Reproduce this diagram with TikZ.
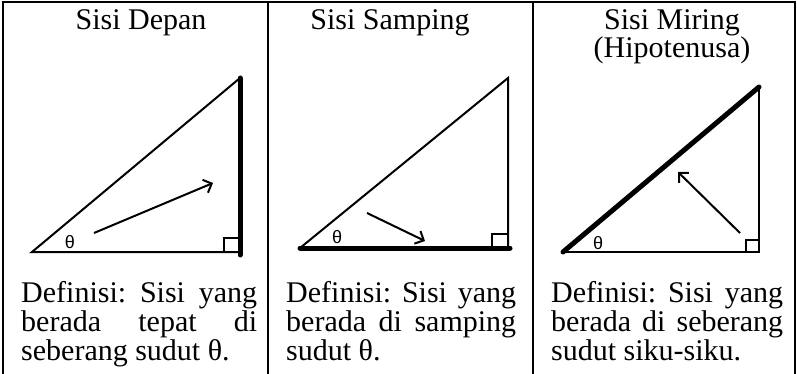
\documentclass[tikz,border=0pt]{standalone}
\usepackage{fontspec}
\setmainfont{Liberation Serif}
\newfontfamily\thetafont{Liberation Sans}
\usetikzlibrary{arrows.meta}
\frenchspacing
\tikzset{
  grid/.style={line width=2pt, black},
  tri/.style={line width=2pt, line join=miter},
  thick side/.style={line width=5pt, line cap=round},
  rightsq/.style={line width=1.6pt},
  pointer/.style={line width=2pt, -{Straight Barb[length=7pt,width=14pt,line width=2pt]}},
  title/.style={anchor=base, inner sep=0pt, font=\fontsize{30}{29}\selectfont},
  body/.style={anchor=base west, inner sep=0pt, text width=236pt, align=justify, font=\fontsize{30}{29}\selectfont\frenchspacing},
  ang/.style={inner sep=0pt, font=\thetafont\fontsize{18}{18}\selectfont}
}
\begin{document}
\begin{tikzpicture}[x=1pt, y=-1pt]
\useasboundingbox (0,0) rectangle (797,374);
% table
\draw[grid] (3,374) -- (3,2) -- (795,2) -- (795,374);
\draw[grid] (268,2) -- (268,374);
\draw[grid] (533,2) -- (533,374);
% titles
\node[title] (t1) at (141,30) {Sisi Depan};
\node[title] (t2) at (390,30) {Sisi Samping};
\node[title] (t3a) at (672,30) {Sisi Miring};
\node[title] (t3b) at (672,58) {(Hipotenusa)};
% triangle 1
\coordinate (a1) at (32,252); \coordinate (b1) at (240,252); \coordinate (c1) at (240,78);
\draw[tri] (b1) -- (a1) -- (c1);
\draw[rightsq] (224,252) |- (240,238);
\draw[thick side] (b1) ++(0,3) -- (c1);
\node[ang] (th1) at (70,242) {θ};
\coordinate (p1s) at (94,233); \coordinate (p1e) at (213,183);
\draw[pointer] (p1s) -- (p1e);
% triangle 2
\coordinate (a2) at (300,248); \coordinate (b2) at (508,248); \coordinate (c2) at (508,78);
\draw[tri] (a2) -- (c2) -- (b2);
\draw[rightsq] (492,248) |- (508,234);
\draw[thick side] (a2) -- ([xshift=2pt]b2);
\node[ang] (th2) at (337,237) {θ};
\coordinate (p2s) at (367,213); \coordinate (p2e) at (425,241);
\draw[pointer] (p2s) -- (p2e);
% triangle 3
\coordinate (a3) at (563,252); \coordinate (b3) at (759,252); \coordinate (c3) at (759,87);
\draw[tri] (a3) -- (b3) -- (c3);
\draw[rightsq] (746,252) |- (759,240);
\draw[thick side] (a3) -- (c3);
\node[ang] (th3) at (598,243) {θ};
\coordinate (p3s) at (740,233); \coordinate (p3e) at (678,172);
\draw[pointer] (p3s) -- (p3e);
% definitions
\node[body] (d1) at (21,302) {Definisi: Sisi yang\linebreak berada tepat di\linebreak seberang sudut θ.};
\node[body, text width=230pt] (d2) at (286,302) {Definisi: Sisi yang\linebreak berada di samping\linebreak sudut θ.};
\node[body, text width=232pt] (d3) at (551,302) {Definisi: Sisi yang\linebreak berada di seberang\linebreak sudut siku-siku.};
\end{tikzpicture}
\end{document}
